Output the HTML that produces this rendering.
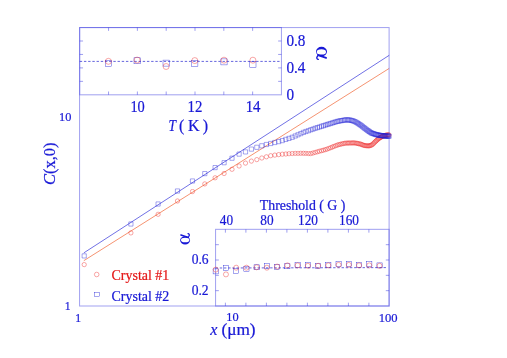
<!DOCTYPE html><html><head><meta charset="utf-8"><title>plot</title>
<style>html,body{margin:0;padding:0;background:#fff}svg{display:block;will-change:transform;opacity:0.999}text{font-family:"Liberation Serif",serif;stroke-width:0.22px;paint-order:stroke}</style></head><body>
<svg width="507" height="358" viewBox="0 0 507 358">
<rect width="507" height="358" fill="#fff"/>
<line x1="83.8" y1="252.9" x2="389.2" y2="55.3" stroke="#3434da" stroke-width="0.7"/>
<line x1="83.8" y1="260.7" x2="389.2" y2="68.4" stroke="#f06434" stroke-width="0.7"/>
<defs><marker id="mc" markerWidth="6" markerHeight="6" refX="3" refY="3" markerUnits="userSpaceOnUse"><circle cx="3" cy="3" r="2.15" fill="none" stroke="#ee2222" stroke-width="0.4"/></marker></defs>
<polyline points="84.2,264.6 130.9,232.9 158.1,214.3 177.5,201.0 192.5,191.5 204.8,183.9 215.1,177.8 224.1,173.5 232.0,169.3 239.1,166.0 245.5,163.1 251.4,161.1 256.8,159.6 261.8,158.0 266.4,156.8 270.7,155.7 274.8,155.1 278.7,154.6 282.3,154.2 285.8,154.0 289.0,153.7 292.2,153.5 295.2,153.4 298.0,153.4 300.8,153.3 303.4,153.3 305.9,153.4 308.4,153.5 310.8,153.6 313.0,153.0 315.2,152.4 317.4,151.8 319.4,151.2 321.5,150.7 323.4,150.2 325.3,149.6 327.1,149.1 328.9,148.4 330.7,147.7 332.4,147.0 334.0,146.4 335.7,145.7 337.3,145.1 338.8,144.6 340.3,144.3 341.8,143.9 343.2,143.6 344.7,143.3 346.0,143.1 347.4,143.1 348.7,143.0 350.0,143.0 351.3,143.0 352.6,142.9 353.8,142.9 355.0,143.0 356.2,143.2 357.4,143.4 358.5,143.7 359.7,143.9 360.8,144.1 361.9,144.6 362.9,145.0 364.0,145.4 365.0,145.6 366.1,145.7 367.1,145.8 368.1,145.8 369.1,145.9 370.0,145.6 371.0,145.2 371.9,144.9 372.9,144.1 373.8,143.2 374.7,142.2 375.6,141.4 376.4,140.6 377.3,139.8 378.2,139.0 379.0,138.4 379.9,137.8 380.7,137.3 381.5,136.8 382.3,136.4 383.1,136.1 383.9,135.8 384.7,135.5 385.4,135.3 386.2,135.2 386.9,135.0 387.7,134.9 388.4,134.9 389.1,135.0" fill="none" stroke="none" marker-start="url(#mc)" marker-mid="url(#mc)" marker-end="url(#mc)"/>
<path d="M82.1 253.8h4.2v4.2h-4.2zM128.8 221.9h4.2v4.2h-4.2zM156.0 201.9h4.2v4.2h-4.2zM175.4 188.9h4.2v4.2h-4.2zM190.4 178.9h4.2v4.2h-4.2zM202.7 171.5h4.2v4.2h-4.2zM213.0 165.5h4.2v4.2h-4.2zM222.0 160.6h4.2v4.2h-4.2zM229.9 156.1h4.2v4.2h-4.2zM237.0 152.0h4.2v4.2h-4.2zM243.4 149.8h4.2v4.2h-4.2zM249.3 147.0h4.2v4.2h-4.2zM254.7 145.2h4.2v4.2h-4.2zM259.7 143.7h4.2v4.2h-4.2zM264.3 142.4h4.2v4.2h-4.2zM268.6 141.4h4.2v4.2h-4.2zM272.7 140.4h4.2v4.2h-4.2zM276.6 139.5h4.2v4.2h-4.2zM280.2 138.5h4.2v4.2h-4.2zM283.7 137.3h4.2v4.2h-4.2zM286.9 136.3h4.2v4.2h-4.2zM290.1 135.2h4.2v4.2h-4.2zM293.1 133.9h4.2v4.2h-4.2zM295.9 132.7h4.2v4.2h-4.2zM298.7 131.5h4.2v4.2h-4.2zM301.3 130.3h4.2v4.2h-4.2zM303.8 129.4h4.2v4.2h-4.2zM306.3 128.6h4.2v4.2h-4.2zM308.7 127.7h4.2v4.2h-4.2zM310.9 127.0h4.2v4.2h-4.2zM313.1 126.2h4.2v4.2h-4.2zM315.3 125.5h4.2v4.2h-4.2zM317.3 124.9h4.2v4.2h-4.2zM319.4 124.2h4.2v4.2h-4.2zM321.3 123.6h4.2v4.2h-4.2zM323.2 123.0h4.2v4.2h-4.2zM325.0 122.4h4.2v4.2h-4.2zM326.8 121.9h4.2v4.2h-4.2zM328.6 121.4h4.2v4.2h-4.2zM330.3 120.8h4.2v4.2h-4.2zM331.9 120.3h4.2v4.2h-4.2zM333.6 119.8h4.2v4.2h-4.2zM335.2 119.3h4.2v4.2h-4.2zM336.7 119.0h4.2v4.2h-4.2zM338.2 118.7h4.2v4.2h-4.2zM339.7 118.5h4.2v4.2h-4.2zM341.1 118.2h4.2v4.2h-4.2zM342.6 117.9h4.2v4.2h-4.2zM343.9 117.8h4.2v4.2h-4.2zM345.3 117.8h4.2v4.2h-4.2zM346.6 117.9h4.2v4.2h-4.2zM347.9 117.9h4.2v4.2h-4.2zM349.2 118.3h4.2v4.2h-4.2zM350.5 118.6h4.2v4.2h-4.2zM351.7 119.0h4.2v4.2h-4.2zM352.9 119.5h4.2v4.2h-4.2zM354.1 120.2h4.2v4.2h-4.2zM355.3 120.9h4.2v4.2h-4.2zM356.4 121.6h4.2v4.2h-4.2zM357.6 122.4h4.2v4.2h-4.2zM358.7 123.1h4.2v4.2h-4.2zM359.8 123.9h4.2v4.2h-4.2zM360.8 124.8h4.2v4.2h-4.2zM361.9 125.6h4.2v4.2h-4.2zM362.9 126.4h4.2v4.2h-4.2zM364.0 127.2h4.2v4.2h-4.2zM365.0 128.0h4.2v4.2h-4.2zM366.0 128.7h4.2v4.2h-4.2zM367.0 129.3h4.2v4.2h-4.2zM367.9 130.0h4.2v4.2h-4.2zM368.9 130.6h4.2v4.2h-4.2zM369.8 131.1h4.2v4.2h-4.2zM370.8 131.4h4.2v4.2h-4.2zM371.7 131.7h4.2v4.2h-4.2zM372.6 132.0h4.2v4.2h-4.2zM373.5 132.3h4.2v4.2h-4.2zM374.3 132.6h4.2v4.2h-4.2zM375.2 132.8h4.2v4.2h-4.2zM376.1 132.9h4.2v4.2h-4.2zM376.9 133.1h4.2v4.2h-4.2zM377.8 133.2h4.2v4.2h-4.2zM378.6 133.4h4.2v4.2h-4.2zM379.4 133.5h4.2v4.2h-4.2zM380.2 133.6h4.2v4.2h-4.2zM381.0 133.7h4.2v4.2h-4.2zM381.8 133.7h4.2v4.2h-4.2zM382.6 133.8h4.2v4.2h-4.2zM383.3 133.9h4.2v4.2h-4.2zM384.1 133.9h4.2v4.2h-4.2zM384.8 134.0h4.2v4.2h-4.2zM385.6 134.0h4.2v4.2h-4.2zM386.3 134.0h4.2v4.2h-4.2zM387.0 134.1h4.2v4.2h-4.2z" fill="none" stroke="#2222d6" stroke-width="0.4"/>
<g fill="none" stroke="#3a3ae0" stroke-opacity="0.46" stroke-width="1.05">
<rect x="79.55" y="27.55" width="309.55" height="278.45"/>
<rect x="79.75" y="27.55" width="201.70" height="67.25"/>
<rect x="215.55" y="229.35" width="173.55" height="76.65"/>
</g>
<path d="M108.56 27.55 v3.3 M108.56 94.8 v-3.3 M137.38 27.55 v3.3 M137.38 94.8 v-3.3 M166.19 27.55 v3.3 M166.19 94.8 v-3.3 M195.01 27.55 v3.3 M195.01 94.8 v-3.3 M223.82 27.55 v3.3 M223.82 94.8 v-3.3 M252.64 27.55 v3.3 M252.64 94.8 v-3.3 M79.75 81.35 h3.3 M281.45 81.35 h-3.3 M79.75 67.90 h3.3 M281.45 67.90 h-3.3 M79.75 54.45 h3.3 M281.45 54.45 h-3.3 M79.75 41.00 h3.3 M281.45 41.00 h-3.3 M225.40 229.35 v3.3 M225.40 306.0 v-3.3 M245.90 229.35 v3.3 M245.90 306.0 v-3.3 M266.40 229.35 v3.3 M266.40 306.0 v-3.3 M286.90 229.35 v3.3 M286.90 306.0 v-3.3 M307.40 229.35 v3.3 M307.40 306.0 v-3.3 M327.90 229.35 v3.3 M327.90 306.0 v-3.3 M348.40 229.35 v3.3 M348.40 306.0 v-3.3 M368.90 229.35 v3.3 M368.90 306.0 v-3.3 M215.55 290.67 h3.3 M389.1 290.67 h-3.3 M215.55 275.34 h3.3 M389.1 275.34 h-3.3 M215.55 260.01 h3.3 M389.1 260.01 h-3.3 M215.55 244.68 h3.3 M389.1 244.68 h-3.3" stroke="#3a3ae0" stroke-opacity="0.55" stroke-width="0.9" fill="none"/>
<line x1="79.75" y1="61.4" x2="281.45" y2="61.4" stroke="#2424d0" stroke-width="0.7" stroke-dasharray="2.4 1.8"/>
<g fill="none" stroke="#2222d6" stroke-width="0.4"><rect x="105.30" y="60.40" width="6.2" height="6"/><rect x="134.00" y="57.80" width="6.2" height="6"/><rect x="163.00" y="60.10" width="6.2" height="6"/><rect x="191.70" y="60.40" width="6.2" height="6"/><rect x="220.90" y="58.90" width="6.2" height="6"/><rect x="249.80" y="61.50" width="6.2" height="6"/></g>
<g fill="none" stroke="#ee2222" stroke-width="0.4"><circle cx="108.4" cy="61.3" r="3"/><circle cx="137.1" cy="60.1" r="3"/><circle cx="166.1" cy="66.5" r="3"/><circle cx="194.8" cy="60.6" r="3"/><circle cx="224" cy="60.2" r="3"/><circle cx="252.9" cy="60.2" r="3"/></g>
<line x1="215.55" y1="268.0" x2="386.7" y2="267.6" stroke="#2424d0" stroke-width="0.7" stroke-dasharray="2.4 1.8"/>
<g fill="none" stroke="#2222d6" stroke-width="0.4"><rect x="213.10" y="268.90" width="5.2" height="5"/><rect x="223.34" y="265.20" width="5.2" height="5"/><rect x="233.58" y="268.30" width="5.2" height="5"/><rect x="243.82" y="266.40" width="5.2" height="5"/><rect x="254.06" y="264.80" width="5.2" height="5"/><rect x="264.30" y="263.60" width="5.2" height="5"/><rect x="274.54" y="264.50" width="5.2" height="5"/><rect x="284.78" y="263.80" width="5.2" height="5"/><rect x="295.02" y="262.40" width="5.2" height="5"/><rect x="305.26" y="262.40" width="5.2" height="5"/><rect x="315.50" y="263.30" width="5.2" height="5"/><rect x="325.74" y="262.20" width="5.2" height="5"/><rect x="335.98" y="261.40" width="5.2" height="5"/><rect x="346.22" y="261.40" width="5.2" height="5"/><rect x="356.46" y="262.20" width="5.2" height="5"/><rect x="366.70" y="261.40" width="5.2" height="5"/><rect x="376.94" y="262.90" width="5.2" height="5"/></g>
<g fill="none" stroke="#ee2222" stroke-width="0.4"><circle cx="215.70" cy="269.6" r="2.5"/><circle cx="225.94" cy="274.4" r="2.5"/><circle cx="236.18" cy="267.7" r="2.5"/><circle cx="246.42" cy="267.7" r="2.5"/><circle cx="256.66" cy="267.3" r="2.5"/><circle cx="266.90" cy="267.7" r="2.5"/><circle cx="277.14" cy="266.6" r="2.5"/><circle cx="287.38" cy="265.4" r="2.5"/><circle cx="297.62" cy="265.4" r="2.5"/><circle cx="307.86" cy="265.8" r="2.5"/><circle cx="318.10" cy="265.8" r="2.5"/><circle cx="328.34" cy="265.4" r="2.5"/><circle cx="338.58" cy="264.9" r="2.5"/><circle cx="348.82" cy="264.9" r="2.5"/><circle cx="359.06" cy="265.4" r="2.5"/><circle cx="369.30" cy="265.4" r="2.5"/><circle cx="379.54" cy="265.8" r="2.5"/></g>
<circle cx="96.7" cy="274.5" r="2.3" fill="none" stroke="#ee2222" stroke-width="0.4"/>
<rect x="94.3" y="292.2" width="5" height="4.5" fill="none" stroke="#2222d6" stroke-width="0.4"/>
<text x="111.5" y="279.5" font-size="14" fill="#e41818" stroke="#e41818" textLength="57.8" lengthAdjust="spacingAndGlyphs">Crystal #1</text>
<text x="111.5" y="300.5" font-size="14" fill="#1818d6" stroke="#1818d6" textLength="57.8" lengthAdjust="spacingAndGlyphs">Crystal #2</text>
<text transform="translate(65.2,121) scale(0.95,1)" font-size="13" fill="#1818d6" stroke="#1818d6" text-anchor="middle">10</text>
<text transform="translate(67.6,309.9) scale(0.9,1)" font-size="13" fill="#1818d6" stroke="#1818d6" text-anchor="middle">1</text>
<text transform="translate(78.2,321.6) scale(0.9,1)" font-size="13" fill="#1818d6" stroke="#1818d6" text-anchor="middle">1</text>
<text transform="translate(232.4,321.2) scale(0.95,1)" font-size="13" fill="#1818d6" stroke="#1818d6" text-anchor="middle">10</text>
<text transform="translate(388.2,321.5) scale(0.97,1)" font-size="13" fill="#1818d6" stroke="#1818d6" text-anchor="middle">100</text>
<text x="210.3" y="335.3" font-size="16" fill="#1818d6" stroke="#1818d6" font-style="italic">x</text>
<text transform="translate(221.4,335.3) scale(1.08,1)" font-size="16" fill="#1818d6" stroke="#1818d6">(μm)</text>
<text transform="translate(55.2,185.0) rotate(-90) scale(1.03,1)" font-size="16" fill="#1818d6" stroke="#1818d6"><tspan font-style="italic">C</tspan>(x,0)</text>
<text transform="translate(137.6,111.5) scale(0.9,1)" font-size="16" fill="#1818d6" stroke="#1818d6" text-anchor="middle">10</text>
<text transform="translate(195.0,111.5) scale(0.93,1)" font-size="16" fill="#1818d6" stroke="#1818d6" text-anchor="middle">12</text>
<text transform="translate(253.1,111.5) scale(0.93,1)" font-size="16" fill="#1818d6" stroke="#1818d6" text-anchor="middle">14</text>
<text transform="translate(168.6,130.8) scale(0.84,1)" font-size="16" fill="#1818d6" stroke="#1818d6" font-style="italic">T</text>
<text y="130.8" font-size="16" fill="#1818d6" stroke="#1818d6"><tspan x="178.9">(</tspan><tspan x="188.0">K</tspan><tspan x="202.8">)</tspan></text>
<text transform="translate(286.4,45.8) scale(0.95,1)" font-size="16" fill="#1818d6" stroke="#1818d6" text-anchor="start">0.8</text>
<text transform="translate(286.4,72.7) scale(0.95,1)" font-size="16" fill="#1818d6" stroke="#1818d6" text-anchor="start">0.4</text>
<text transform="translate(286.4,99.8) scale(0.95,1)" font-size="16" fill="#1818d6" stroke="#1818d6" text-anchor="start">0</text>
<g fill="#1818d6" stroke="#1818d6" stroke-width="0"><path fill-rule="evenodd" d="M321.5 46.75 A5.5 4.85 0 1 0 321.5 56.45 A5.5 4.85 0 1 0 321.5 46.75 Z M321.4 49.3 A4.65 2.65 0 1 1 321.4 54.6 A4.65 2.65 0 1 1 321.4 49.3 Z"/><path d="M326.1 57.9 L318.0 55.1" fill="none" stroke-width="1.75" stroke-linecap="round"/><path d="M317.6 56.0 Q316.4 57.4 316.9 58.4 Q317.4 59.3 318.3 59.4" fill="none" stroke-width="1.35" stroke-linecap="round" stroke-linejoin="round"/></g>
<g transform="translate(185.2,238.85) scale(-0.907,-0.863) translate(-321.4,-53.35)" fill="#1818d6" stroke="#1818d6" stroke-width="0"><path fill-rule="evenodd" d="M321.5 46.75 A5.5 4.85 0 1 0 321.5 56.45 A5.5 4.85 0 1 0 321.5 46.75 Z M321.4 49.3 A4.65 2.65 0 1 1 321.4 54.6 A4.65 2.65 0 1 1 321.4 49.3 Z"/><path d="M326.1 57.9 L318.0 55.1" fill="none" stroke-width="1.75" stroke-linecap="round"/><path d="M317.6 56.0 Q316.4 57.4 316.9 58.4 Q317.4 59.3 318.3 59.4" fill="none" stroke-width="1.35" stroke-linecap="round" stroke-linejoin="round"/></g>
<text transform="translate(226.4,224.5) scale(0.95,1)" font-size="14" fill="#1818d6" stroke="#1818d6" text-anchor="middle">40</text>
<text transform="translate(267,224.5) scale(0.95,1)" font-size="14" fill="#1818d6" stroke="#1818d6" text-anchor="middle">80</text>
<text transform="translate(308,224.5) scale(0.95,1)" font-size="14" fill="#1818d6" stroke="#1818d6" text-anchor="middle">120</text>
<text transform="translate(349,224.5) scale(0.95,1)" font-size="14" fill="#1818d6" stroke="#1818d6" text-anchor="middle">160</text>
<text x="259.8" y="209.7" font-size="14" fill="#1818d6" stroke="#1818d6" textLength="85.6" lengthAdjust="spacingAndGlyphs">Threshold ( G )</text>
<text transform="translate(208.6,264) scale(0.97,1)" font-size="14" fill="#1818d6" stroke="#1818d6" text-anchor="end">0.6</text>
<text transform="translate(208.6,295) scale(0.97,1)" font-size="14" fill="#1818d6" stroke="#1818d6" text-anchor="end">0.2</text>
</svg></body></html>
